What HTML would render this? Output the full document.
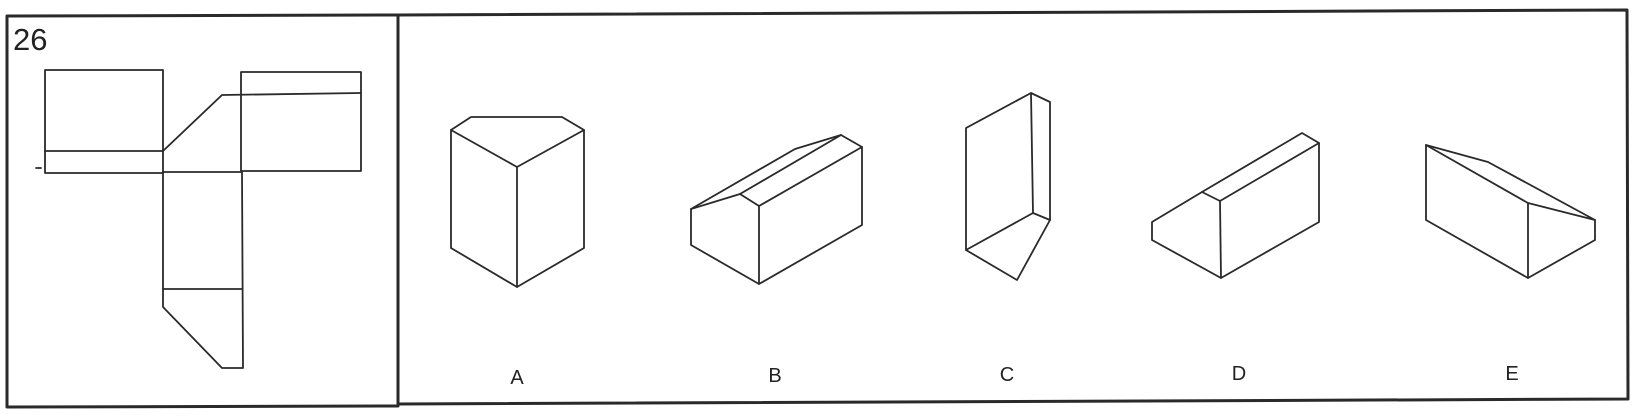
<!DOCTYPE html>
<html><head><meta charset="utf-8"><style>
html,body{margin:0;padding:0;background:#fff;}
svg{display:block;}
text{font-family:"Liberation Sans",sans-serif;fill:#222;}
</style></head><body>
<svg width="1640" height="419" viewBox="0 0 1640 419">
<g fill="none" stroke="#2a2a2a" stroke-linejoin="round" stroke-linecap="round">
  <polygon points="7,16 398,15 398,406 7,407" stroke-width="3"/>
  <polygon points="398,15 1627,10 1628,399 398,404" stroke-width="3"/>
  <g stroke-width="1.8">
    <rect x="45" y="70" width="118" height="103"/>
    <line x1="45" y1="151" x2="163" y2="151"/>
    <rect x="241" y="72" width="120" height="99"/>
    <polyline points="163,151 222,95 361,93"/>
    <line x1="163" y1="172" x2="241" y2="172"/>
    <polyline points="163,172 163,307 222,368 243,368 242,172"/>
    <line x1="163" y1="289" x2="242" y2="289"/>
    <line x1="36" y1="168" x2="41" y2="168"/>
  </g>
  <g stroke-width="1.8">
    <polygon points="451,130 471,117 562,117 584,130 584,248 517,287 451,248"/>
    <polyline points="451,130 517,167 584,130"/>
    <line x1="517" y1="167" x2="517" y2="287"/>
  </g>
  <g stroke-width="1.8">
    <polygon points="691,209 740,194 759,206 862,147 862,225 759,284 691,245"/>
    <polyline points="691,209 795,149 841,135 862,147"/>
    <line x1="740" y1="194" x2="841" y2="135"/>
    <line x1="759" y1="206" x2="759" y2="284"/>
  </g>
  <g stroke-width="1.8">
    <polygon points="966,128 1031,93 1050,102 1050,220 1017,280 966,250"/>
    <line x1="1031" y1="93" x2="1033" y2="213"/>
    <polyline points="966,250 1033,213 1050,220"/>
  </g>
  <g stroke-width="1.8">
    <polygon points="1152,222 1202,192 1302,133 1319,143 1319,222 1221,278 1152,240"/>
    <polyline points="1202,192 1220,201 1319,143"/>
    <line x1="1220" y1="201" x2="1221" y2="278"/>
  </g>
  <g stroke-width="1.8">
    <polygon points="1426,145 1488,162 1595,220 1595,240 1528,278 1426,220"/>
    <polyline points="1426,145 1528,203 1595,220"/>
    <line x1="1528" y1="203" x2="1528" y2="278"/>
  </g>
</g>
<text x="13" y="50" font-size="31">26</text>
<g font-size="20" text-anchor="middle">
  <text x="517" y="384">A</text>
  <text x="775" y="382">B</text>
  <text x="1007" y="381">C</text>
  <text x="1239" y="380">D</text>
  <text x="1512" y="380">E</text>
</g>
</svg>
</body></html>
